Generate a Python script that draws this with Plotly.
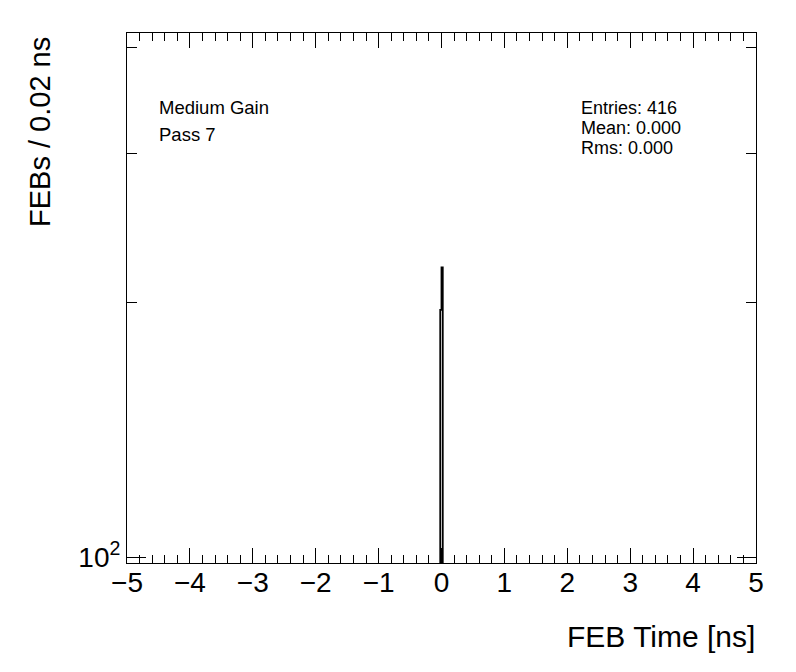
import plotly.graph_objects as go
import math

# ---- data ----
bin_edges = [-0.02, 0.0, 0.02]          # ns
bin_counts = [196, 220]                  # FEBs per 0.02 ns
stats_lines = ["Entries: 416", "Mean: 0.000", "Rms: 0.000"]
info_lines = ["Medium Gain", "Pass 7"]
y_major_vals = [100]
y_major_text = ["10<sup>2</sup>"]
y_minor_vals = [200, 300, 400]
x_range = [-5, 5]
y_range = [98.4, 416.4]

FONT = "Liberation Sans, Arial, Helvetica, sans-serif"

# build histogram outline from bin data
base = 1.0
xs = [bin_edges[0]]
ys = [base]
for i, c in enumerate(bin_counts):
    xs += [bin_edges[i], bin_edges[i + 1]]
    ys += [c, c]
xs.append(bin_edges[-1])
ys.append(base)

fig = go.Figure()
fig.add_trace(go.Scatter(x=xs, y=ys, mode="lines",
                         line=dict(color="black", width=1.8),
                         hoverinfo="skip", showlegend=False))

OFF = 8  # page body margin
W, H = 796 - OFF, 672 - OFF
L, R, T, B = 127 - OFF, 40, 33 - OFF, 109
pw, ph = W - L - R, H - T - B

def px2x(px):
    return (px - OFF - L) / pw

def py2y(py):
    return 1 - (py - OFF - T) / ph

fig.update_layout(
    width=W, height=H,
    margin=dict(l=L, r=R, t=T, b=B, pad=0),
    paper_bgcolor="white", plot_bgcolor="white",
    font=dict(family=FONT, color="black"),
    showlegend=False,
)

fig.update_xaxes(
    range=x_range, showgrid=False, zeroline=False,
    showline=True, linecolor="black", linewidth=1, mirror="allticks",
    ticks="inside", ticklen=15, tickwidth=1, tickcolor="black",
    tickmode="array", tickvals=list(range(-5, 6)),
    ticktext=[("\u2212" + str(abs(v))) if v < 0 else str(v) for v in range(-5, 6)],
    tickfont=dict(size=28, family=FONT),
    ticklabelstandoff=-6,
    minor=dict(ticks="inside", ticklen=8, tickwidth=1, tickcolor="black",
               dtick=0.2, tick0=0, showgrid=False),
)

fig.update_yaxes(
    type="log", range=[math.log10(y_range[0]), math.log10(y_range[1])],
    showgrid=False, zeroline=False,
    showline=True, linecolor="black", linewidth=1, mirror="allticks",
    ticks="inside", ticklen=19, tickwidth=1, tickcolor="black",
    tickmode="array", tickvals=y_major_vals, ticktext=y_major_text,
    tickfont=dict(size=28, family=FONT),
    minor=dict(ticks="inside", ticklen=10, tickwidth=1, tickcolor="black",
               tickmode="array", tickvals=y_minor_vals, showgrid=False),
)

anns = []
for i, t in enumerate(info_lines):
    anns.append(dict(text=t, x=px2x(157), y=py2y(107.3 + 27 * i),
                     xref="paper", yref="paper", xanchor="left", yanchor="middle",
                     showarrow=False, font=dict(size=18.5, family=FONT)))
for i, t in enumerate(stats_lines):
    anns.append(dict(text=t, x=px2x(579), y=py2y(108.3 + 20 * i),
                     xref="paper", yref="paper", xanchor="left", yanchor="middle",
                     showarrow=False, font=dict(size=18, family=FONT)))
# axis titles
anns.append(dict(text="FEB Time [ns]", x=px2x(757), y=py2y(636),
                 xref="paper", yref="paper", xanchor="right", yanchor="middle",
                 showarrow=False, font=dict(size=30, family=FONT)))
anns.append(dict(text="FEBs / 0.02 ns", x=px2x(40), y=py2y(35),
                 xref="paper", yref="paper", xanchor="center", yanchor="top",
                 textangle=-90, showarrow=False, font=dict(size=29, family=FONT)))
fig.update_layout(annotations=anns)

fig.write_html("out.html")
